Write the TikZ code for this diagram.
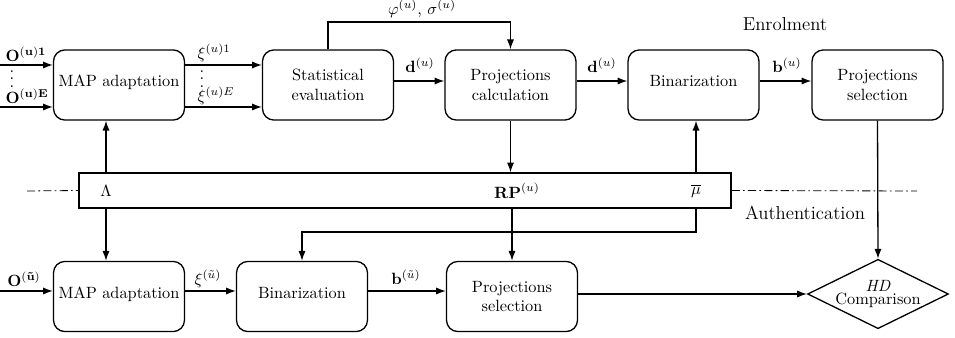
\documentclass[tikz,border=0pt]{standalone}
\usetikzlibrary{arrows.meta,shapes.geometric,calc}
\newcommand{\tightdots}{\vbox{\baselineskip=4.6pt\lineskiplimit=0pt\hbox{.}\hbox{.}\hbox{.}}}
\begin{document}
\begin{tikzpicture}[x=0.613pt,y=-0.613pt,
  line width=0.8pt,
  blk/.style={draw, rounded corners=7pt, minimum width=80.3pt, minimum height=43pt, align=center, inner sep=2pt},
  oneline/.style={text height=6.9pt, text depth=4.9pt},
  arr/.style={-{Latex[length=6pt,width=4.4pt]}},
  lbl/.style={inner sep=0pt},
  phase/.style={inner sep=0pt, font=\fontsize{11.5}{13}\selectfont},
  sep/.style={line width=0.5pt, dash pattern=on 5pt off 2pt on 1pt off 2pt}]
\useasboundingbox (0,0) rectangle (955,338);

% top row
\node[blk,oneline] (map1) at (119,85) {MAP adaptation};
\node[blk] (stat) at (328,85) {Statistical\\evaluation};
\node[blk] (proj) at (510.5,85) {Projections\\calculation};
\node[blk,oneline] (bin1) at (693.5,85) {Binarization};
\node[blk] (sel1) at (877.5,85) {Projections\\selection};

% bottom row
\node[blk,oneline] (map2) at (119,296.5) {MAP adaptation};
\node[blk,oneline] (bin2) at (302,296.5) {Binarization};
\node[blk] (sel2) at (512,296.5) {Projections\\selection};
\node[draw, diamond, aspect=2.03, inner sep=0pt, minimum width=79.7pt, minimum height=39.2pt, align=center] (diam) at (878,294) {\textit{HD}\\[-4pt]Comparison};

% middle bar
\node[draw, minimum width=399.7pt, minimum height=21.5pt, inner sep=0pt] (bar) at (405,190.5) {};
\node[lbl] (lam) at (106,191) {$\Lambda$};
\node[lbl] (rp) at (517,191) {$\mathbf{RP}^{(u)}$};
\node[lbl] (mu) at (696,191) {$\overline{\mu}$};

% separators
\coordinate (dl) at (27,191);
\coordinate (dr) at (917,191);
\draw[sep] (dl) -- (bar.west);
\draw[sep] (bar.east) -- (dr);
\node[phase] (enr) at (785,24) {Enrolment};
\node[phase] (auth) at (805,213) {Authentication};

% inputs top
\coordinate (in1) at (0,65);
\coordinate (in2) at (0,107);
\draw[arr] (in1) -- (in1 -| map1.west);
\draw[arr] (in2) -- (in2 -| map1.west);
\node[lbl] (o1) at (26,54) {$\mathbf{O^{(u)1}}$};
\node[lbl] (od) at (12,79) {\tightdots};
\node[lbl] (oE) at (27,96) {$\mathbf{O^{(u)E}}$};

% map -> stat
\draw[arr] (map1.east |- in1) -- (stat.west |- in1);
\draw[arr] (map1.east |- in2) -- (stat.west |- in2);
\node[lbl, anchor=west] (x1) at (197,53) {$\xi^{(u)1}$};
\node[lbl] (xd) at (202,79) {\tightdots};
\node[lbl, anchor=west] (xE) at (197,96) {$\xi^{(u)E}$};

% stat -> proj -> bin -> sel
\draw[arr] ([yshift=2.45pt]stat.east) -- ([yshift=2.45pt]proj.west);
\draw[arr] ([yshift=2.45pt]proj.east) -- ([yshift=2.45pt]bin1.west);
\draw[arr] ([yshift=2.45pt]bin1.east) -- ([yshift=2.45pt]sel1.west);
\node[lbl] (d1) at (420,65) {$\mathbf{d}^{(u)}$};
\node[lbl] (d2) at (602,65) {$\mathbf{d}^{(u)}$};
\node[lbl] (b1) at (787,65) {$\mathbf{b}^{(u)}$};

% phi, sigma feedback
\coordinate (phi) at (420,22);
\draw[arr] (stat.north) |- (phi) -| (proj.north);
\node[lbl] (phil) at (422,9) {$\varphi^{(u)}$, $\sigma^{(u)}$};

% vertical links with the bar
\draw[arr] (bar.north -| lam) -- (map1.south -| lam);
\draw[arr] (bar.south -| lam) -- (map2.north -| lam);
\draw[arr] (proj.south) -- (bar.north -| proj.south);
\draw[arr] (bar.north -| mu) -- (bin1.south -| mu);
\draw[arr] (bar.south -| sel2.north) -- (sel2.north);
\coordinate (fb) at (500,232);
\draw[arr] (bar.south -| mu) |- (fb) -| (bin2.north);
\draw[arr] (sel1.south) -- (diam.north);

% bottom row arrows
\coordinate (in3) at (0,291);
\draw[arr] (in3) -- (in3 -| map2.west);
\draw[arr] (map2.east |- in3) -- (bin2.west |- in3);
\draw[arr] (bin2.east |- in3) -- (sel2.west |- in3);
\draw[arr] (sel2.east |- diam.west) -- (diam.west);
\node[lbl] (o3) at (24,279) {$\mathbf{O^{(\tilde{u})}}$};
\node[lbl] (x3) at (208,279) {$\xi^{(\tilde{u})}$};
\node[lbl] (b3) at (406,277) {$\mathbf{b}^{(\tilde{u})}$};
\end{tikzpicture}
\end{document}
